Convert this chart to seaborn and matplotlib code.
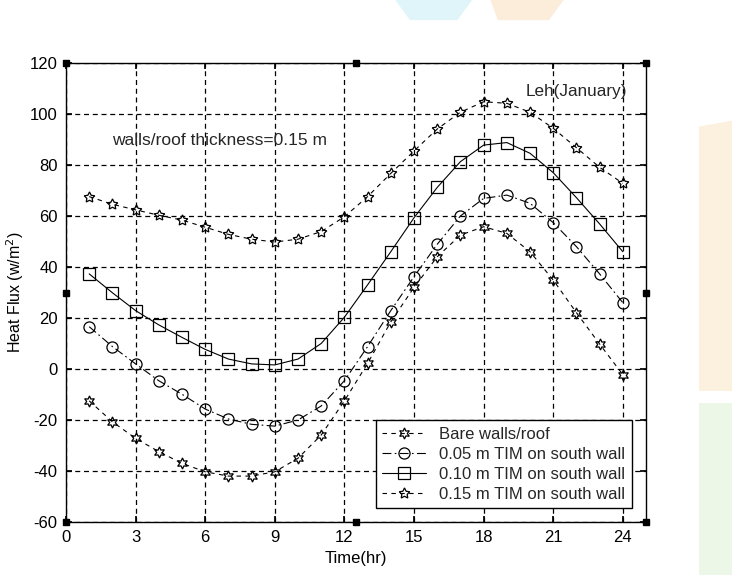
import numpy as np
import pandas as pd
import matplotlib
matplotlib.use("Agg")
import matplotlib.pyplot as plt
import seaborn as sns
from matplotlib.patches import Polygon

hours = list(range(1, 25))
bare = [-12.5, -20.7, -27.2, -32.4, -37.0, -40.3, -42.0, -42.0, -40.3, -35.0, -25.9, -12.5,
        2.2, 18.5, 32.0, 44.0, 52.5, 55.8, 53.2, 46.0, 34.9, 22.1, 9.8, -2.2]
tim005 = [16.6, 8.8, 2.0, -4.6, -9.9, -15.7, -19.6, -21.7, -22.4, -20.0, -14.5, -4.6,
          8.8, 22.9, 36.2, 48.9, 60.0, 66.9, 68.2, 65.0, 57.4, 48.0, 37.3, 26.0]
tim010 = [37.3, 29.9, 22.9, 17.3, 12.4, 7.7, 3.9, 2.0, 1.6, 3.9, 10.0, 20.3,
          33.0, 46.0, 59.3, 71.2, 81.3, 87.8, 88.8, 84.6, 77.0, 67.2, 56.9, 46.0]
tim015 = [67.6, 64.6, 62.4, 60.3, 58.4, 55.6, 52.8, 50.9, 49.8, 50.9, 53.9, 59.7,
          67.6, 76.7, 85.5, 94.1, 100.7, 104.8, 104.2, 100.7, 94.4, 86.8, 79.1, 72.8]
labels = ["Bare walls/roof", "0.05 m TIM on south wall",
          "0.10 m TIM on south wall", "0.15 m TIM on south wall"]
x_ticks = [0, 3, 6, 9, 12, 15, 18, 21, 24]
y_ticks = [-60, -40, -20, 0, 20, 40, 60, 80, 100, 120]

sns.set_theme(style="white")
plt.rcParams['font.family'] = ['Liberation Sans', 'DejaVu Sans']
plt.rcParams['axes.unicode_minus'] = False

fig = plt.figure(figsize=(7.32, 5.75), dpi=100)
fig.patch.set_facecolor("white")

# faint background watermark
for pts, col in [
    ([(0.54, 1.0), (0.645, 1.0), (0.625, 0.965), (0.56, 0.965)], (0.88, 0.96, 0.98)),
    ([(0.67, 1.0), (0.77, 1.0), (0.75, 0.965), (0.68, 0.965)], (0.99, 0.93, 0.86)),
    ([(0.955, 0.78), (1.0, 0.79), (1.0, 0.32), (0.955, 0.32)], (0.99, 0.94, 0.87)),
    ([(0.955, 0.30), (1.0, 0.30), (1.0, 0.0), (0.955, 0.0)], (0.93, 0.97, 0.91)),
]:
    fig.patches.append(Polygon(pts, closed=True, transform=fig.transFigure,
                               facecolor=col, edgecolor="none", zorder=0))

ax = fig.add_axes([66 / 732, 1 - 522 / 575, 580 / 732, 459 / 575])
ax.set_facecolor("white")

df = pd.DataFrame({"hour": hours, labels[0]: bare, labels[1]: tim005,
                   labels[2]: tim010, labels[3]: tim015})

styles = [
    dict(marker=(6, 1, 0), linestyle=(0, (4, 4)), markersize=8),
    dict(marker="o", linestyle=(0, (8, 3, 1.5, 3)), markersize=8),
    dict(marker="s", linestyle="-", markersize=8),
    dict(marker=(5, 1, 0), linestyle=(0, (4, 4)), markersize=8),
]
for lab, st in zip(labels, styles):
    sns.lineplot(data=df, x="hour", y=lab, ax=ax, color="black", linewidth=0.8,
                 markerfacecolor="none", markeredgecolor="black",
                 markeredgewidth=0.9, label=lab, **st)

ax.set_xlim(0, 25)
ax.set_ylim(-60, 120)
ax.set_xticks(x_ticks)
ax.set_yticks(y_ticks)
ax.tick_params(direction="in", length=4, labelsize=12, colors="black",
               top=True, right=True, bottom=True, left=True, pad=6)
ax.grid(True, color="black", linestyle=(0, (4, 3)), linewidth=0.9)
for s in ax.spines.values():
    s.set_color("black")
    s.set_linewidth(1.0)
ax.set_xlabel("Time(hr)", fontsize=12, color="black", labelpad=4)
ax.set_ylabel("Heat Flux (w/m$^2$)", fontsize=11.5, color="black", labelpad=3)

ax.text(2.0, 89.8, "walls/roof thickness=0.15 m", fontsize=12.5, va="center", ha="left")
ax.text(24.2, 109, "Leh(January)", fontsize=12.3, va="center", ha="right")

leg = ax.legend(loc="lower right", bbox_to_anchor=(0.975, 0.03), fontsize=12,
                frameon=True, fancybox=False, edgecolor="black", framealpha=1,
                handlelength=2.6, handletextpad=0.8, borderpad=0.4,
                labelspacing=0.3, borderaxespad=0)
leg.get_frame().set_linewidth(1.0)

# selection handles
hx = [0, 0.5, 1, 0, 1, 0, 0.5, 1]
hy = [1, 1, 1, 0.5, 0.5, 0, 0, 0]
ax.plot(hx, hy, "s", color="black", markersize=4.5, transform=ax.transAxes,
        clip_on=False, zorder=10)

fig.savefig("out.png", dpi=100)
